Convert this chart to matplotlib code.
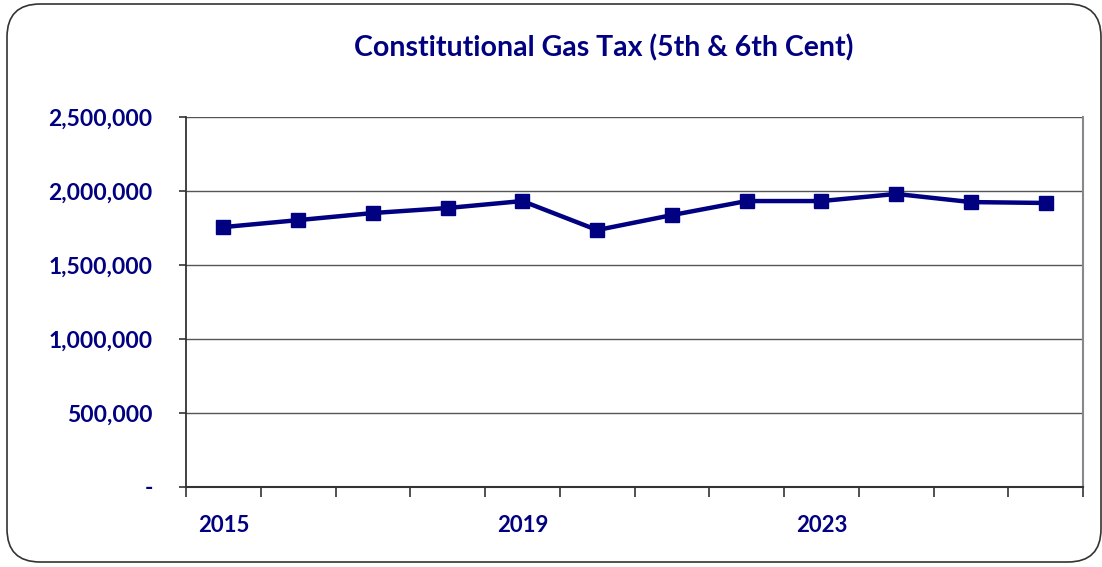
import matplotlib.pyplot as plt
from matplotlib.patches import FancyBboxPatch
from matplotlib.ticker import FuncFormatter, FixedLocator

# fiscal years and collections
years = list(range(2015, 2027))
collections = [1756000, 1803000, 1851000, 1885000, 1932000, 1736000,
               1837000, 1932000, 1932000, 1980000, 1925000, 1919000]
labelled_years = [2015, 2019, 2023]

navy = '#000080'
plt.rcParams['font.family'] = ['Lato', 'DejaVu Sans']
plt.rcParams['font.weight'] = 'bold'

fig = plt.figure(figsize=(11.02, 5.67), dpi=100)

# rounded frame round the whole chart
frame = FancyBboxPatch((7 / 1102, 5 / 567), 1094 / 1102, 558 / 567,
                       boxstyle='round,pad=0,rounding_size=0.03',
                       transform=fig.transFigure, fill=False,
                       edgecolor='#333333', linewidth=1.2, mutation_aspect=1102 / 567)
fig.patches.append(frame)

ax = fig.add_axes([0.1688, 0.1411, 0.8140, 0.6526])
xs = list(range(len(years)))
ax.plot(xs, collections, color=navy, linewidth=3.2, marker='s', markersize=10,
        zorder=3)

ax.set_xlim(-0.5, len(years) - 0.5)
ax.set_ylim(0, 2500000)
ax.set_yticks(range(0, 2500001, 500000))
ax.yaxis.set_major_formatter(FuncFormatter(lambda v, p: '-' if v == 0 else f'{int(v):,}'))
ax.grid(axis='y', color='#555555', linewidth=1.0)
ax.set_axisbelow(True)

ax.set_xticks([years.index(y) for y in labelled_years])
ax.set_xticklabels([str(y) for y in labelled_years])
ax.xaxis.set_minor_locator(FixedLocator([i - 0.5 for i in range(len(years) + 1)]))
ax.tick_params(axis='x', which='major', length=0, pad=20, labelsize=16, labelcolor=navy)
ax.tick_params(axis='x', which='minor', length=7, width=1.2, color='#333333', direction='out')
ax.tick_params(axis='y', length=5, width=1.2, color='#333333', pad=19,
               labelsize=16.5, labelcolor=navy)

ax.spines['top'].set_visible(False)
ax.spines['right'].set_color('#888888')
ax.spines['right'].set_linewidth(1.5)
ax.spines['left'].set_color('#333333')
ax.spines['left'].set_linewidth(1.3)
ax.spines['bottom'].set_color('#333333')
ax.spines['bottom'].set_linewidth(1.5)

for lbl in ax.get_xticklabels() + ax.get_yticklabels():
    lbl.set_fontweight('bold')

fig.text(0.5475, 0.915, 'Constitutional Gas Tax (5th & 6th Cent)', ha='center', va='center',
         fontsize=20.5, fontweight='bold', color=navy)

fig.savefig('out.png', dpi=100)
